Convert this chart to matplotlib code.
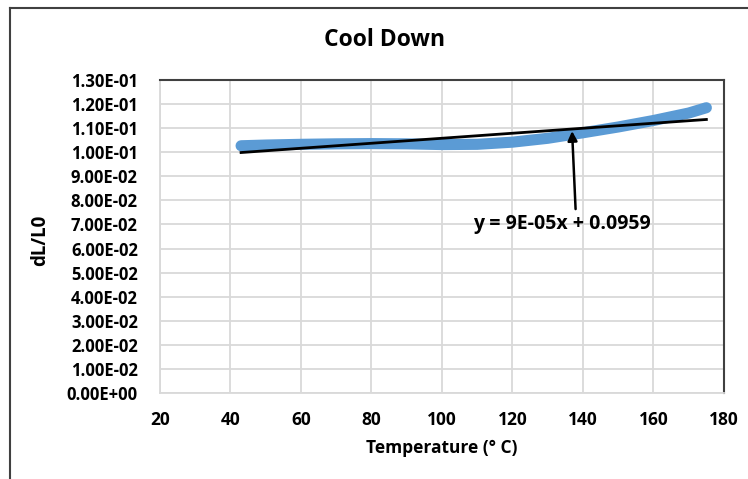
import matplotlib.pyplot as plt
import matplotlib.ticker as mticker
from matplotlib.lines import Line2D
import numpy as np

plt.rcParams['font.family'] = ['Open Sans', 'DejaVu Sans']
plt.rcParams['font.weight'] = 'bold'

# Cool down curve
temp = [43, 50, 60, 70, 80, 90, 100, 110, 120, 130, 140, 150, 160, 170, 175]
dl_l0 = [0.1027, 0.1030, 0.1033, 0.1035, 0.1036, 0.1035, 0.1032, 0.1033, 0.1042,
         0.1058, 0.1081, 0.1105, 0.1132, 0.1163, 0.1185]

x_ticks = [20, 40, 60, 80, 100, 120, 140, 160, 180]
y_ticks = [i * 0.01 for i in range(14)]

fig = plt.figure(figsize=(7.48, 4.79), dpi=100)
ax = fig.add_axes([0.2139, 0.1795, 0.7540, 0.6534])

ax.plot(temp, dl_l0, color='#5b9bd5', lw=8, solid_capstyle='round', zorder=3)

# linear trendline
slope, icpt = np.polyfit(temp, dl_l0, 1)
tx = np.array([temp[0], temp[-1]])
ax.plot(tx, slope * tx + icpt, color='black', lw=2, zorder=4)

ax.text(134, 0.0702, 'y = 9E-05x + 0.0959', ha='center', va='center',
        fontsize=14, fontweight='bold')
ax.annotate('', xy=(136.9, 0.1088), xytext=(137.9, 0.0764),
            arrowprops=dict(arrowstyle='-|>', color='black', lw=1.8,
                            shrinkA=0, shrinkB=0, mutation_scale=14))

ax.set_xlim(20, 180)
ax.set_ylim(0, 0.13)
ax.set_xticks(x_ticks)
ax.set_yticks(y_ticks)
ax.yaxis.set_major_formatter(mticker.FuncFormatter(lambda v, p: f'{v:.2E}'))
ax.tick_params(length=0)
ax.tick_params(axis='y', labelsize=12, pad=16)
ax.tick_params(axis='x', labelsize=12.5, pad=13)
ax.grid(True, color='#d9d9d9', lw=1.3)
ax.set_axisbelow(True)
for s in ['left', 'bottom']:
    ax.spines[s].set_color('#d9d9d9')
    ax.spines[s].set_linewidth(1.3)
for s in ['top', 'right']:
    ax.spines[s].set_color('#404040')
    ax.spines[s].set_linewidth(1.5)

ax.set_xlabel('Temperature (° C)', fontsize=12.5, fontweight='bold', labelpad=7)
ax.set_ylabel('dL/L0', fontsize=13.5, fontweight='bold')
ax.yaxis.set_label_coords(-0.195, 0.489)
fig.text(385 / 748, 1 - 40 / 479, 'Cool Down', ha='center', va='center',
         fontsize=16.5, fontweight='bold')

# chart frame
fig.add_artist(Line2D([10 / 748, 10 / 748], [0, 1 - 8 / 479], color='#404040', lw=1.5))
fig.add_artist(Line2D([10 / 748, 1], [1 - 8 / 479, 1 - 8 / 479], color='#404040', lw=1.5))

fig.savefig('out.png', dpi=100)
